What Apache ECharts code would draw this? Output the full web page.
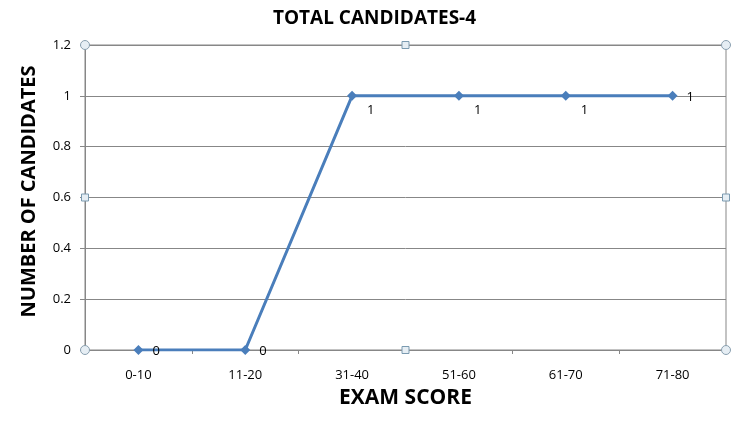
<!DOCTYPE html>
<html><head><meta charset="utf-8">
<script src="https://cdn.jsdelivr.net/npm/echarts@6/dist/echarts.min.js"></script>
<style>html,body{margin:0;padding:0;background:#fff}#c{width:749px;height:421px}</style>
</head><body><div id="c"></div>
<script>
var categories = ['0-10','11-20','31-40','51-60','61-70','71-80'];
var candidates = [0,0,1,1,1,1];
var yTicks = [0,0.2,0.4,0.6,0.8,1,1.2];

var G = {left:85, right:23, top:45, bottom:71};
var W = 749, H = 421;
var chart = echarts.init(document.getElementById('c'));
var labelOffsets = [[4,1],[4,1],[5,14],[5,14],[5,14],[4,1]];
var FONT = '"Open Sans", "Liberation Sans", sans-serif';
var x0 = G.left, x1 = W - G.right, y0 = G.top, y1 = H - G.bottom;
var handles = [];
[[x0,y0],[x1,y0],[x0,y1],[x1,y1]].forEach(function(p){
  handles.push({type:'circle', shape:{cx:p[0], cy:p[1], r:4.5}, style:{fill:'#e6eef4', stroke:'#8aa0b0', lineWidth:1}, z:100});
});
[[(x0+x1)/2,y0],[(x0+x1)/2,y1],[x0,(y0+y1)/2],[x1,(y0+y1)/2]].forEach(function(p){
  handles.push({type:'rect', shape:{x:p[0]-3.5, y:p[1]-3.5, width:7, height:7}, style:{fill:'#e6eef4', stroke:'#7a9ab0', lineWidth:1}, z:100});
});
chart.setOption({
  animation:false,
  backgroundColor:'#fff',
  title:{text:'TOTAL CANDIDATES-4', left:'center', top:4, textStyle:{fontFamily:FONT, fontWeight:'bold', fontSize:19, color:'#000'}},
  grid:{left:G.left, right:G.right, top:G.top, bottom:G.bottom, show:true, borderColor:'#878787', borderWidth:1, backgroundColor:'transparent'},
  xAxis:{type:'category', data:categories, boundaryGap:true,
    name:'EXAM SCORE', nameLocation:'middle', nameGap:38,
    nameTextStyle:{fontFamily:FONT, fontWeight:'bold', fontSize:21, color:'#000'},
    axisLine:{lineStyle:{color:'#878787'}},
    axisTick:{show:true, length:4, alignWithLabel:false, lineStyle:{color:'#878787'}},
    axisLabel:{fontFamily:FONT, fontSize:13, color:'#000', margin:19}},
  yAxis:{type:'value', min:0, max:1.2, interval:0.2,
    name:'NUMBER OF CANDIDATES', nameLocation:'middle', nameGap:46,
    nameTextStyle:{fontFamily:FONT, fontWeight:'bold', fontSize:20, color:'#000', padding:[0,0,0,12]},
    axisLine:{show:true, lineStyle:{color:'#878787'}},
    axisTick:{show:true, length:5, lineStyle:{color:'#878787'}},
    splitLine:{lineStyle:{color:'#878787'}},
    axisLabel:{fontFamily:FONT, fontSize:13, color:'#000', margin:14,
      formatter:function(v){ var r = Math.round(v*10)/10; return yTicks.indexOf(r)>=0 ? String(r) : ''; }}},
  series:[{type:'line', data:candidates.map(function(v,i){
      return {value:v, label:{offset:labelOffsets[i]}};
    }),
    symbol:'diamond', symbolSize:10,
    lineStyle:{color:'#4a7ebb', width:3},
    itemStyle:{color:'#4a7ebb'},
    label:{show:true, position:'right', fontFamily:FONT, fontSize:13, color:'#000'}}],
  graphic:handles
});
</script></body></html>
